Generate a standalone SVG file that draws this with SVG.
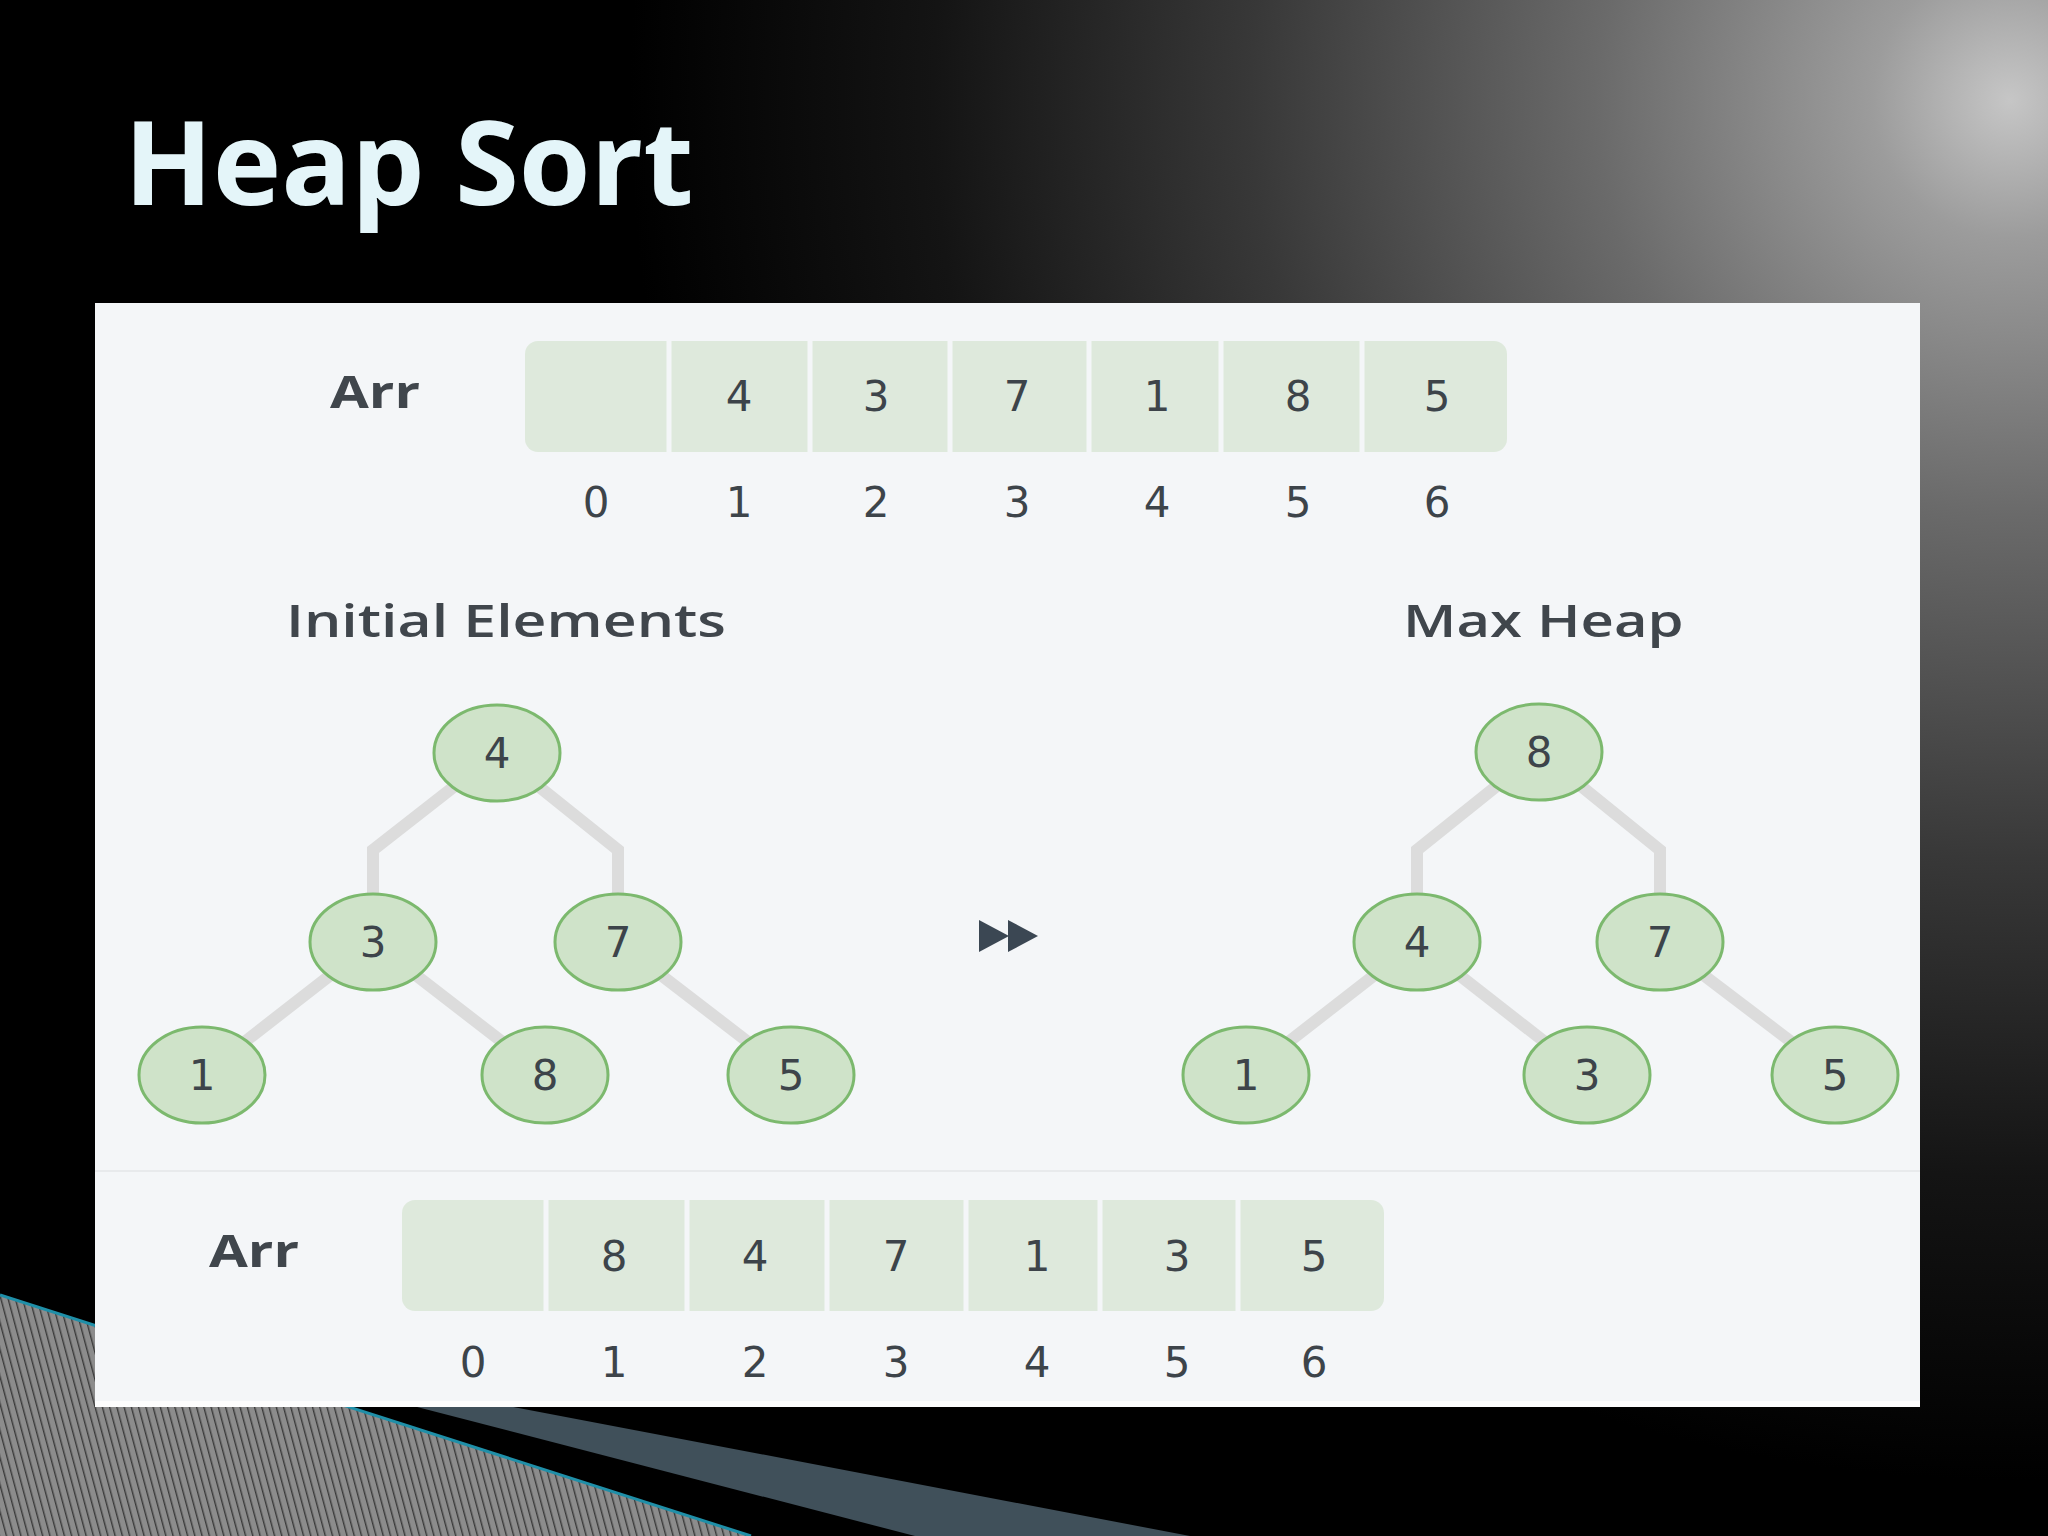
<svg xmlns="http://www.w3.org/2000/svg" width="2048" height="1536" viewBox="0 0 2048 1536">
<defs>
<radialGradient id="glow" gradientUnits="userSpaceOnUse" cx="2010" cy="100" r="1380">
<stop offset="0" stop-color="#c6c6c6"/>
<stop offset="0.1" stop-color="#9c9c9c"/>
<stop offset="0.3" stop-color="#6a6a6a"/>
<stop offset="0.55" stop-color="#383838"/>
<stop offset="0.78" stop-color="#141414"/>
<stop offset="1" stop-color="#000"/>
</radialGradient>
<pattern id="hatch" patternUnits="userSpaceOnUse" width="7" height="40" patternTransform="rotate(-15)">
<rect width="7" height="40" fill="#8c8c8c"/>
<rect x="0" y="0" width="1.4" height="40" fill="#3a3a3a"/>
</pattern>
<style>
.title{font-family:"Open Sans","Liberation Sans",sans-serif;font-weight:700;font-size:116px;fill:#e4f5f9}
.lbl{font-family:"Open Sans","Liberation Sans",sans-serif;font-weight:700;font-size:44px;fill:#40464c}
.head{font-family:"Open Sans","Liberation Sans",sans-serif;font-weight:600;font-size:46px;fill:#40464c}
.dig{font-family:"DejaVu Sans","Liberation Sans",sans-serif;font-size:42px;fill:#3d444a;text-anchor:middle}
.node ellipse{fill:#cfe3c9;stroke:#7cb96e;stroke-width:3}
.edge{fill:none;stroke:#dcdcdc;stroke-width:12;stroke-linejoin:miter}
.arr{fill:#dee9dc}
.sep{stroke:#f4f6f8;stroke-width:5}
</style>
</defs>
<rect width="2048" height="1536" fill="#000"/>
<rect width="2048" height="1536" fill="url(#glow)"/>
<polygon points="0,1295 751,1536 0,1536" fill="url(#hatch)"/>
<line x1="0" y1="1295" x2="751" y2="1536" stroke="#1f8fa8" stroke-width="3"/>
<polygon points="390,1400 477,1400 1190,1536 915,1536" fill="#40505a"/>
<text class="title" x="124" y="205">Heap Sort</text>
<rect x="95" y="303" width="1825" height="1104" fill="#f4f6f8"/>
<rect x="95" y="1401" width="1825" height="6" fill="#fdfdfd"/>
<line x1="95" y1="1171" x2="1920" y2="1171" stroke="#e8eaec" stroke-width="2"/>

<g id="array-top">
<text class="lbl" transform="translate(330,408) scale(1.28,1)">Arr</text>
<rect class="arr" x="525" y="341" width="982" height="111" rx="13"/>
<line class="sep" x1="669" y1="341" x2="669" y2="452"/>
<line class="sep" x1="810" y1="341" x2="810" y2="452"/>
<line class="sep" x1="950" y1="341" x2="950" y2="452"/>
<line class="sep" x1="1089" y1="341" x2="1089" y2="452"/>
<line class="sep" x1="1221" y1="341" x2="1221" y2="452"/>
<line class="sep" x1="1362" y1="341" x2="1362" y2="452"/>
<g class="dig">
<text x="739" y="411">4</text><text x="876" y="411">3</text><text x="1017" y="411">7</text><text x="1157" y="411">1</text><text x="1298" y="411">8</text><text x="1437" y="411">5</text>
</g>
<g class="dig">
<text x="596" y="517">0</text><text x="739" y="517">1</text><text x="876" y="517">2</text><text x="1017" y="517">3</text><text x="1157" y="517">4</text><text x="1298" y="517">5</text><text x="1437" y="517">6</text>
</g>
</g>

<text class="head" transform="translate(286,637) scale(1.28,1)">Initial Elements</text>
<text class="head" transform="translate(1403,637) scale(1.26,1)">Max Heap</text>

<g id="connectors">
<polyline class="edge" points="497,753 373,850 373,942"/>
<polyline class="edge" points="497,753 618,850 618,942"/>
<line class="edge" x1="373" y1="942" x2="202" y2="1075"/>
<line class="edge" x1="373" y1="942" x2="545" y2="1075"/>
<line class="edge" x1="618" y1="942" x2="791" y2="1075"/>
<polyline class="edge" points="1539,752 1417,850 1417,942"/>
<polyline class="edge" points="1539,752 1660,850 1660,942"/>
<line class="edge" x1="1417" y1="942" x2="1246" y2="1075"/>
<line class="edge" x1="1417" y1="942" x2="1587" y2="1075"/>
<line class="edge" x1="1660" y1="942" x2="1835" y2="1075"/>
</g>

<g id="L4" class="node"><ellipse cx="497" cy="753" rx="63" ry="48"/><text class="dig" x="497" y="768">4</text></g>
<g id="L3" class="node"><ellipse cx="373" cy="942" rx="63" ry="48"/><text class="dig" x="373" y="957">3</text></g>
<g id="L7" class="node"><ellipse cx="618" cy="942" rx="63" ry="48"/><text class="dig" x="618" y="957">7</text></g>
<g id="L1" class="node"><ellipse cx="202" cy="1075" rx="63" ry="48"/><text class="dig" x="202" y="1090">1</text></g>
<g id="L8" class="node"><ellipse cx="545" cy="1075" rx="63" ry="48"/><text class="dig" x="545" y="1090">8</text></g>
<g id="L5" class="node"><ellipse cx="791" cy="1075" rx="63" ry="48"/><text class="dig" x="791" y="1090">5</text></g>

<g id="R8" class="node"><ellipse cx="1539" cy="752" rx="63" ry="48"/><text class="dig" x="1539" y="767">8</text></g>
<g id="R4" class="node"><ellipse cx="1417" cy="942" rx="63" ry="48"/><text class="dig" x="1417" y="957">4</text></g>
<g id="R7" class="node"><ellipse cx="1660" cy="942" rx="63" ry="48"/><text class="dig" x="1660" y="957">7</text></g>
<g id="R1" class="node"><ellipse cx="1246" cy="1075" rx="63" ry="48"/><text class="dig" x="1246" y="1090">1</text></g>
<g id="R3" class="node"><ellipse cx="1587" cy="1075" rx="63" ry="48"/><text class="dig" x="1587" y="1090">3</text></g>
<g id="R5" class="node"><ellipse cx="1835" cy="1075" rx="63" ry="48"/><text class="dig" x="1835" y="1090">5</text></g>

<g id="fast-forward" fill="#3b4753">
<polygon points="979,920 1009,936 979,952"/>
<polygon points="1008,920 1038,936 1008,952"/>
</g>

<g id="array-bottom">
<text class="lbl" transform="translate(209,1267) scale(1.28,1)">Arr</text>
<rect class="arr" x="402" y="1200" width="982" height="111" rx="13"/>
<line class="sep" x1="546" y1="1200" x2="546" y2="1311"/>
<line class="sep" x1="687" y1="1200" x2="687" y2="1311"/>
<line class="sep" x1="827" y1="1200" x2="827" y2="1311"/>
<line class="sep" x1="966" y1="1200" x2="966" y2="1311"/>
<line class="sep" x1="1100" y1="1200" x2="1100" y2="1311"/>
<line class="sep" x1="1238" y1="1200" x2="1238" y2="1311"/>
<g class="dig">
<text x="614" y="1271">8</text><text x="755" y="1271">4</text><text x="896" y="1271">7</text><text x="1037" y="1271">1</text><text x="1177" y="1271">3</text><text x="1314" y="1271">5</text>
</g>
<g class="dig">
<text x="473" y="1377">0</text><text x="614" y="1377">1</text><text x="755" y="1377">2</text><text x="896" y="1377">3</text><text x="1037" y="1377">4</text><text x="1177" y="1377">5</text><text x="1314" y="1377">6</text>
</g>
</g>
</svg>
